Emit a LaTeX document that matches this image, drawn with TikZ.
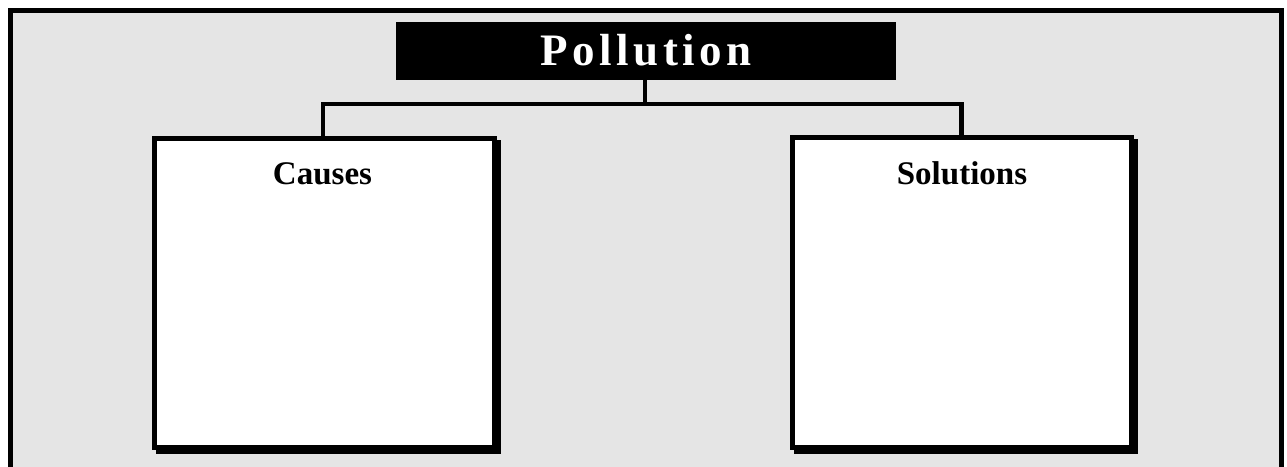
\documentclass[tikz,border=0pt]{standalone}
\usepackage{fontspec}
\setmainfont{Liberation Serif}
\newfontfamily\titlefont[LetterSpace=10]{Liberation Serif}
\definecolor{panelgray}{HTML}{E5E5E5}
\begin{document}
\begin{tikzpicture}[x=1pt,y=-1pt,
  frameline/.style={line width=5pt},
  connline/.style={line width=4.5pt},
  boxstyle/.style={draw=black,line width=5pt,fill=white},
  headtext/.style={font=\fontsize{33}{36}\selectfont\bfseries,anchor=base,inner sep=0pt}]
\useasboundingbox (0,0) rectangle (1287,466);
\clip (0,0) rectangle (1287,466);
% outer frame
\draw[frameline,fill=panelgray] (10.5,10.5) rectangle (1281.5,480);
% title
\node[fill=black,minimum width=500pt,minimum height=58pt,inner sep=0pt,anchor=north west] (title) at (396,22) {};
\node[text=white,font=\titlefont\fontsize{45}{50}\selectfont\bfseries,anchor=base,inner sep=0pt] (titletext) at (646,65) {Pollution};
% boxes with shadows
\draw[line width=5pt] (158,142.5) rectangle (498.5,451.5);
\draw[boxstyle] (154,138.5) rectangle (494.5,447.5);
\coordinate (causestop) at (322.8,136);
\draw[line width=5pt] (796,141.5) rectangle (1135.5,451.5);
\draw[boxstyle] (792,137.5) rectangle (1131.5,447.5);
\coordinate (soltop) at (961.5,135);
% connectors
\coordinate (split) at (645,104);
\draw[connline] (title.south -| split) -- (split);
\draw[connline,line cap=rect] (causestop |- split) -- (soltop |- split);
\draw[connline] (causestop |- split) -- (causestop);
\draw[connline] (soltop |- split) -- (soltop);
% labels
\node[headtext] (causes) at (322.5,184) {Causes};
\node[headtext] (solutions) at (962,184) {Solutions};
\end{tikzpicture}
\end{document}
